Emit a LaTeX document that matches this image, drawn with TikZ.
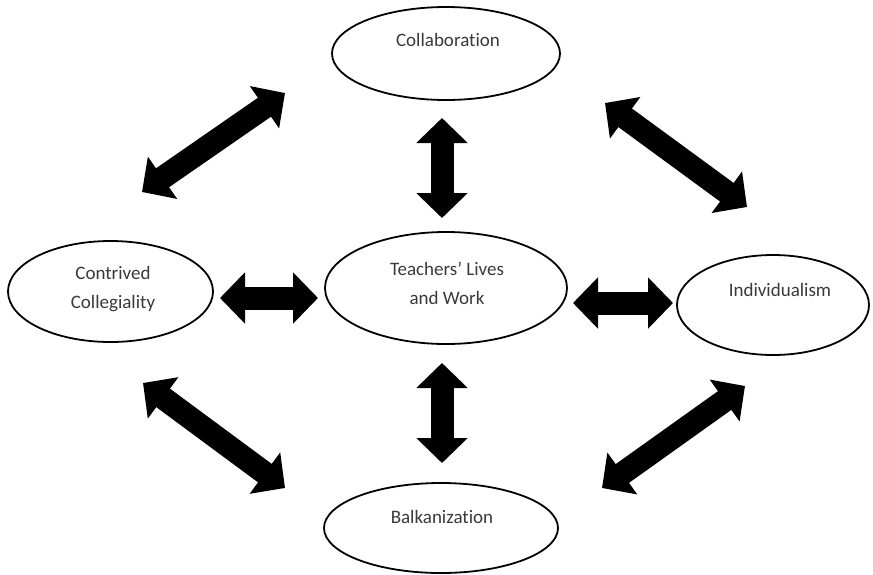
\documentclass[tikz,border=0pt]{standalone}
\usepackage{fontspec}
\setmainfont{Carlito}[Ligatures={NoCommon,NoContextual},RawFeature={-liga;-dlig;-clig}]
\usetikzlibrary{arrows.meta,shapes.geometric}
\definecolor{txt}{HTML}{3A3A3A}
\tikzset{
  oval/.style={draw=black, line width=1.8pt, ellipse, inner sep=0pt, fill=white},
  lbl/.style={text=txt, font=\fontsize{19pt}{29pt}\selectfont, align=center, inner sep=0pt},
  bigarrow/.style={line width=23pt, {Triangle[length=25pt,width=50pt]}-{Triangle[length=25pt,width=50pt]}}
}
\begin{document}
\begin{tikzpicture}[x=1pt,y=-1pt]
\useasboundingbox (0,0) rectangle (873,574);
% ovals
\node[oval, minimum width=228pt, minimum height=93pt] (collab) at (446,53.5) {};
\node[oval, minimum width=242pt, minimum height=112pt] (center) at (446,288) {};
\node[oval, minimum width=205pt, minimum height=101pt] (contr) at (110.5,291.5) {};
\node[oval, minimum width=192pt, minimum height=100pt] (indiv) at (773,305) {};
\node[oval, minimum width=234pt, minimum height=90pt] (balk) at (441,528) {};
% labels
\node[lbl] (tcollab) at (448,40) {Collaboration};
\node[lbl] (tcenter) at (447,283) {Teachers’ Lives\\and Work};
\node[lbl] (tcontr) at (113,289) {Contrived\\Collegiality};
\node[lbl] (tindiv) at (780,290) {Individualism};
\node[lbl] (tbalk) at (442,517) {Balkanization};
% arrow end points
\coordinate (a1) at (142,192); \coordinate (a2) at (285,93);
\coordinate (b1) at (605,103); \coordinate (b2) at (747,207);
\coordinate (c1) at (442,118); \coordinate (c2) at (442,218);
\coordinate (d1) at (220,298); \coordinate (d2) at (318,298);
\coordinate (e1) at (573,303); \coordinate (e2) at (673,303);
\coordinate (f1) at (442,363); \coordinate (f2) at (442,463);
\coordinate (g1) at (143,383); \coordinate (g2) at (285,488);
\coordinate (h1) at (602,488); \coordinate (h2) at (745,386);
\foreach \p/\q in {a1/a2,b1/b2,c1/c2,d1/d2,e1/e2,f1/f2,g1/g2,h1/h2}
  \draw[bigarrow] (\p) -- (\q);
\end{tikzpicture}
\end{document}
